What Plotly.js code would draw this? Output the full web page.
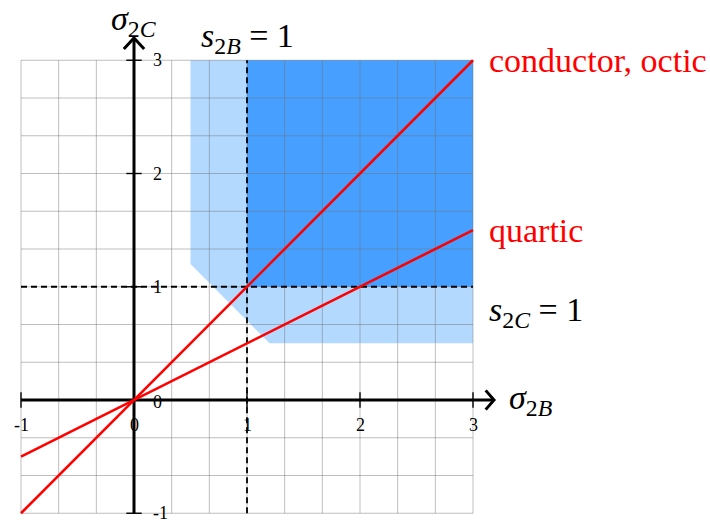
<!DOCTYPE html>
<html>
<head>
<meta charset="utf-8">
<script src="https://cdn.plot.ly/plotly-3.0.1.min.js"></script>
<style>html,body{margin:0;padding:0;background:#fff;}#chart{width:710px;height:522px;}</style>
</head>
<body>
<div id="chart"></div>
<script>
// ---- data ----
var tickVals = [-1, 0, 1, 2, 3];
var tickLabels = ['-1', '0', '1', '2', '3'];
var lineX = [-1, 3];
var octicY = [-1, 3];          // conductor, octic : sigma2C = sigma2B
var quarticY = [-0.5, 1.5];    // quartic : sigma2C = sigma2B / 2
var lightRegionX = [0.5, 0.5, 1.2, 3, 3, 0.5];
var lightRegionY = [3, 1.2, 0.5, 0.5, 3, 3];
var darkRegionX = [1, 3, 3, 1, 1];
var darkRegionY = [1, 1, 3, 3, 1];
var s2BThreshold = 1;
var s2CThreshold = 1;
var gridMin = -1, gridMax = 3, gridStep = 1 / 3;

// ---- build ----
var FONT = 'Liberation Serif, DejaVu Serif, serif';
var traces = [];

traces.push({x: lightRegionX, y: lightRegionY, mode: 'lines', fill: 'toself',
  fillcolor: '#b3d9ff', line: {width: 0}, hoverinfo: 'skip'});
traces.push({x: darkRegionX, y: darkRegionY, mode: 'lines', fill: 'toself',
  fillcolor: '#47a0ff', line: {width: 0}, hoverinfo: 'skip'});

// grid
var gx = [], gy = [];
var n = Math.round((gridMax - gridMin) / gridStep);
for (var i = 0; i <= n; i++) {
  var v = gridMin + i * gridStep;
  gx.push(v, v, null); gy.push(gridMin, gridMax, null);
  gx.push(gridMin, gridMax, null); gy.push(v, v, null);
}
traces.push({x: gx, y: gy, mode: 'lines', line: {color: 'rgba(110,110,110,0.45)', width: 1}, hoverinfo: 'skip'});

// dashed thresholds
traces.push({x: [s2BThreshold, s2BThreshold], y: [gridMin, gridMax], mode: 'lines',
  line: {color: 'black', width: 1.8, dash: '6px,4px'}, hoverinfo: 'skip'});
traces.push({x: [gridMin, gridMax], y: [s2CThreshold, s2CThreshold], mode: 'lines',
  line: {color: 'black', width: 1.8, dash: '6px,4px'}, hoverinfo: 'skip'});

// axes
traces.push({x: [gridMin, 3.17, null, 0, 0], y: [0, 0, null, gridMin, 3.18], mode: 'lines',
  line: {color: 'black', width: 3}, hoverinfo: 'skip'});
traces.push({x: [3.112, 3.186, 3.112, null, -0.09, 0, 0.09], y: [0.085, 0, -0.085, null, 3.1, 3.196, 3.1],
  mode: 'lines', line: {color: 'black', width: 3}, hoverinfo: 'skip'});

// tick marks
var tx = tickVals.filter(function (v) { return v !== 0; });
traces.push({x: tx, y: tx.map(function () { return 0; }), mode: 'markers',
  marker: {symbol: 'line-ns-open', size: 11, color: 'black', line: {color: 'black', width: 1.4}}, hoverinfo: 'skip'});
traces.push({x: tx.map(function () { return 0; }), y: tx, mode: 'markers',
  marker: {symbol: 'line-ew-open', size: 11, color: 'black', line: {color: 'black', width: 1.4}}, hoverinfo: 'skip'});

// red lines
traces.push({x: lineX, y: octicY, mode: 'lines', line: {color: '#ff0000', width: 2.6}, hoverinfo: 'skip'});
traces.push({x: lineX, y: quarticY, mode: 'lines', line: {color: '#ff0000', width: 2.6}, hoverinfo: 'skip'});

var ann = [];
var tickFont = {family: FONT, size: 18, color: 'black'};
tickVals.forEach(function (v, k) {
  ann.push({x: v, y: -0.22, text: tickLabels[k], xanchor: 'center', yanchor: 'middle', font: tickFont});
  ann.push({x: 0.15, y: v + (v === 0 ? -0.02 : 0), text: tickLabels[k], xanchor: 'left', yanchor: 'middle', font: tickFont});
});
var big = {family: FONT, size: 34, color: 'black'};
var bigRed = {family: FONT, size: 34, color: '#ff0000'};
ann.push({x: 0, y: 3.35, text: '<i>σ</i><sub>2<i>C</i></sub>', xanchor: 'center', yanchor: 'middle', font: big});
ann.push({x: s2BThreshold, y: 3.2, text: '<i>s</i><sub>2<i>B</i></sub> = 1', xanchor: 'center', yanchor: 'middle', font: big});
ann.push({x: 3.12, y: octicY[1], text: 'conductor, octic', xanchor: 'left', yanchor: 'middle', font: bigRed});
ann.push({x: 3.12, y: quarticY[1], text: 'quartic', xanchor: 'left', yanchor: 'middle', font: bigRed});
ann.push({x: 3.12, y: 0.78, text: '<i>s</i><sub>2<i>C</i></sub> = 1', xanchor: 'left', yanchor: 'middle', font: big});
ann.push({x: 3.3, y: 0.0, text: '<i>σ</i><sub>2<i>B</i></sub>', xanchor: 'left', yanchor: 'middle', font: big});
ann.forEach(function (a) { a.xref = 'x'; a.yref = 'y'; a.showarrow = false; });

var layout = {
  width: 710, height: 522,
  margin: {l: 0, r: 0, t: 0, b: 0, pad: 0},
  xaxis: {range: [-1.1858, 5.0973], visible: false, fixedrange: true},
  yaxis: {range: [-1.0773, 3.5320], visible: false, fixedrange: true},
  showlegend: false,
  paper_bgcolor: 'white', plot_bgcolor: 'white',
  annotations: ann
};
Plotly.newPlot('chart', traces, layout, {staticPlot: true, displayModeBar: false});
</script>
</body>
</html>
